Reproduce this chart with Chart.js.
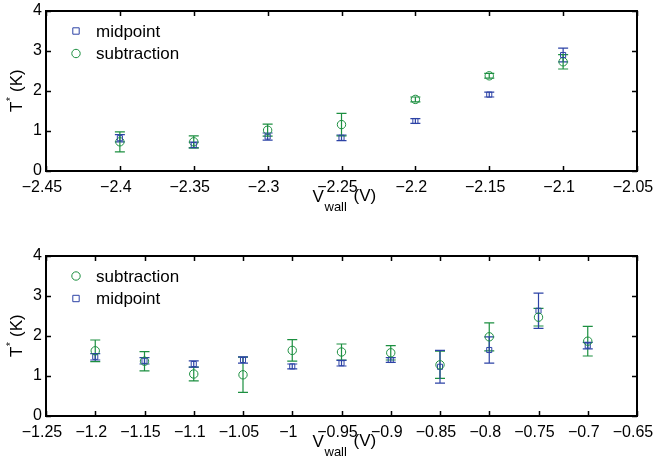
<!DOCTYPE html>
<html>
<head>
<meta charset="utf-8">
<script src="https://cdn.jsdelivr.net/npm/chart.js@4"></script>
<style>
    body { margin: 0; background: #fff; }
    canvas { position: absolute; left: 0; }
    #topChart { top: 0; }
    #bottomChart { top: 230px; }
</style>
</head>
<body>
<canvas id="topChart" width="655" height="230"></canvas>
<canvas id="bottomChart" width="655" height="231"></canvas>
<script>
// data
const topV = [-2.4, -2.35, -2.3, -2.25, -2.2, -2.15, -2.1];
const topMid = [0.82, 0.65, 0.86, 0.83, 1.25, 1.91, 2.9];
const topMidErr = [0.09, 0.07, 0.09, 0.07, 0.06, 0.06, 0.17];
const topSub = [0.73, 0.73, 1.02, 1.16, 1.79, 2.38, 2.73];
const topSubErr = [0.25, 0.15, 0.15, 0.28, 0.06, 0.06, 0.18];

const botV = [-1.2, -1.15, -1.1, -1.05, -1, -0.95, -0.9, -0.85, -0.8, -0.75, -0.7];
const botSub = [1.63, 1.37, 1.05, 1.03, 1.64, 1.6, 1.58, 1.28, 1.98, 2.47, 1.87];
const botSubErr = [0.27, 0.24, 0.17, 0.44, 0.27, 0.2, 0.18, 0.34, 0.35, 0.22, 0.37];
const botMid = [1.48, 1.38, 1.3, 1.4, 1.24, 1.32, 1.4, 1.23, 1.65, 2.63, 1.76];
const botMidErr = [0.08, 0.08, 0.08, 0.08, 0.06, 0.07, 0.06, 0.41, 0.33, 0.44, 0.08];

const topXTicks = [-2.45, -2.4, -2.35, -2.3, -2.25, -2.2, -2.15, -2.1, -2.05];
const botXTicks = [-1.25, -1.2, -1.15, -1.1, -1.05, -1, -0.95, -0.9, -0.85, -0.8, -0.75, -0.7, -0.65];
const yTicks = [0, 1, 2, 3, 4];

const BLUE = "#2d43a6";
const GREEN = "#1c8f40";
const FONT = "'Liberation Sans', Arial, sans-serif";

const fmt = (v) => String(Number(v.toFixed(2))).replace("-", "\u2212");

const makeSet = (label, xs, ys, errs, color, style) => ({
    label: label,
    data: xs.map((x, i) => ({ x: x, y: ys[i] })),
    err: errs,
    pointStyle: style,
    pointRadius: style === "rect" ? 3.6 : 4.2,
    pointHoverRadius: style === "rect" ? 3.6 : 4.2,
    borderColor: color,
    backgroundColor: "rgba(0,0,0,0)",
    borderWidth: 1,
    showLine: false,
});

// error bars, frame, inward ticks, titles, legend
const decor = {
    id: "decor",
    beforeDatasetsDraw(chart) {
        const ctx = chart.ctx;
        const xs = chart.scales.x, ys = chart.scales.y;
        ctx.save();
        chart.data.datasets.forEach((ds) => {
            ctx.strokeStyle = ds.borderColor;
            ctx.lineWidth = 1.2;
            ds.data.forEach((p, i) => {
                const px = xs.getPixelForValue(p.x);
                const y1 = ys.getPixelForValue(p.y + ds.err[i]);
                const y2 = ys.getPixelForValue(p.y - ds.err[i]);
                ctx.beginPath();
                ctx.moveTo(px, y1); ctx.lineTo(px, y2);
                ctx.moveTo(px - 5, y1); ctx.lineTo(px + 5, y1);
                ctx.moveTo(px - 5, y2); ctx.lineTo(px + 5, y2);
                ctx.stroke();
            });
        });
        ctx.restore();
    },
    afterDraw(chart) {
        const ctx = chart.ctx;
        const a = chart.chartArea;
        const xs = chart.scales.x, ys = chart.scales.y;
        ctx.save();
        ctx.strokeStyle = "#000";
        ctx.lineWidth = 1.5;
        xs.ticks.forEach((t) => {
            const px = Math.round(xs.getPixelForValue(t.value)) + 0.5;
            ctx.beginPath();
            ctx.moveTo(px, a.bottom); ctx.lineTo(px, a.bottom - 5);
            ctx.moveTo(px, a.top); ctx.lineTo(px, a.top + 5);
            ctx.stroke();
        });
        ys.ticks.forEach((t) => {
            const py = Math.round(ys.getPixelForValue(t.value)) + 0.5;
            ctx.beginPath();
            ctx.moveTo(a.left, py); ctx.lineTo(a.left + 5, py);
            ctx.moveTo(a.right, py); ctx.lineTo(a.right - 5, py);
            ctx.stroke();
        });
        ctx.lineWidth = 2;
        ctx.strokeRect(a.left, a.top, a.right - a.left, a.bottom - a.top);

        // x title: V_wall (V)
        ctx.fillStyle = "#000";
        ctx.textBaseline = "alphabetic";
        ctx.textAlign = "left";
        const cx = (a.left + a.right) / 2;
        ctx.font = "17px " + FONT;
        ctx.fillText("V", cx - 29, a.bottom + 31);
        ctx.font = "13px " + FONT;
        ctx.fillText("wall", cx - 17, a.bottom + 40);
        ctx.font = "17px " + FONT;
        ctx.fillText("(V)", cx + 12, a.bottom + 30);

        // y title: T* (K)
        const cy = (a.top + a.bottom) / 2;
        ctx.translate(22, cy);
        ctx.rotate(-Math.PI / 2);
        ctx.font = "17px " + FONT;
        ctx.fillText("T", -21, 0);
        ctx.font = "10px " + FONT;
        ctx.fillText("*", -10, -8);
        ctx.font = "17px " + FONT;
        ctx.fillText("(K)", -1, 0);
        ctx.setTransform(1, 0, 0, 1, 0, 0);

        // legend
        chart.data.datasets.forEach((ds, i) => {
            const lx = a.left + 30, ly = a.top + 20 + i * 22.5;
            ctx.strokeStyle = ds.borderColor;
            ctx.lineWidth = 1;
            ctx.beginPath();
            if (ds.pointStyle === "rect") ctx.rect(lx - 3.2, ly - 3.2, 6.4, 6.4);
            else ctx.arc(lx, ly, 4.2, 0, Math.PI * 2);
            ctx.stroke();
            ctx.fillStyle = "#000";
            ctx.font = "17px " + FONT;
            ctx.textBaseline = "middle";
            ctx.fillText(ds.label, lx + 20, ly + 1);
        });
        ctx.restore();
    },
};

const makeChart = (el, datasets, xTicks, padTop, xHeight) =>
    new Chart(document.getElementById(el), {
        type: "scatter",
        data: { datasets: datasets },
        options: {
            responsive: false,
            animation: false,
            devicePixelRatio: 1,
            layout: { padding: { top: padTop, right: 18, left: 0, bottom: 0 } },
            plugins: { legend: { display: false }, tooltip: { enabled: false } },
            scales: {
                x: {
                    type: "linear",
                    min: xTicks[0],
                    max: xTicks[xTicks.length - 1],
                    afterBuildTicks: (s) => { s.ticks = xTicks.map((v) => ({ value: v })); },
                    afterFit: (s) => { s.height = xHeight; s.paddingLeft = 0; s.paddingRight = 0; },
                    grid: { display: false, drawTicks: false },
                    border: { display: false },
                    ticks: {
                        padding: 7,
                        labelOffset: -4,
                        color: "#000",
                        maxRotation: 0,
                        autoSkip: false,
                        font: { family: FONT, size: 16 },
                        callback: (v) => fmt(v),
                    },
                },
                y: {
                    min: 0,
                    max: 4,
                    afterBuildTicks: (s) => { s.ticks = yTicks.map((v) => ({ value: v })); },
                    afterFit: (s) => { s.width = 46; s.paddingTop = 0; s.paddingBottom = 0; },
                    grid: { display: false, drawTicks: false },
                    border: { display: false },
                    ticks: {
                        padding: 4,
                        color: "#000",
                        font: { family: FONT, size: 16 },
                        callback: (v) => fmt(v),
                    },
                },
            },
        },
        plugins: [decor],
    });

makeChart("topChart", [
    makeSet("midpoint", topV, topMid, topMidErr, BLUE, "rect"),
    makeSet("subtraction", topV, topSub, topSubErr, GREEN, "circle"),
], topXTicks, 11, 59);

makeChart("bottomChart", [
    makeSet("subtraction", botV, botSub, botSubErr, GREEN, "circle"),
    makeSet("midpoint", botV, botMid, botMidErr, BLUE, "rect"),
], botXTicks, 26, 45);
</script>
</body>
</html>
